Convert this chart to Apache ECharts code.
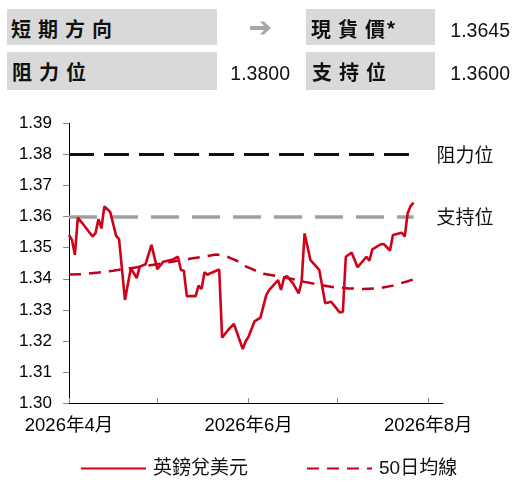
<!DOCTYPE html>
<html>
<head>
<meta charset="utf-8">
<script src="https://cdn.jsdelivr.net/npm/echarts@6/dist/echarts.min.js"></script>
<style>
html,body{margin:0;padding:0;background:#fff;overflow:hidden;}
#chart{position:absolute;left:0;top:0;width:516px;height:486px;}
.box{position:absolute;background:#d9d9d9;z-index:2;}
.lab{position:absolute;z-index:3;font-family:'Noto Sans CJK TC',sans-serif;font-weight:bold;font-size:20px;letter-spacing:7px;color:#111;line-height:20px;white-space:nowrap;}
.ast{letter-spacing:0;margin-left:-6px;}
.num{position:absolute;z-index:3;font-family:'Liberation Sans',Arial,sans-serif;font-size:19.5px;color:#111;line-height:20px;text-align:right;width:100px;}
.arrow{position:absolute;z-index:3;left:249px;top:20px;}
</style>
</head>
<body>
<div id="chart"></div>
<div class="box" style="left:7px;top:9px;width:210px;height:36px;"></div>
<div class="box" style="left:306px;top:9px;width:129px;height:36px;"></div>
<div class="box" style="left:7px;top:52px;width:210px;height:38px;"></div>
<div class="box" style="left:306px;top:52px;width:129px;height:38px;"></div>
<div class="lab" style="left:11px;top:19px;">短期方向</div>
<svg class="arrow" width="26" height="16" viewBox="0 0 26 16"><path d="M1,6 L15,6 L11,1.5 L15,1.5 L22,8 L15,14.5 L11,14.5 L15,10 L1,10 Z" fill="#a8a8a8"/></svg>
<div class="lab" style="left:311px;top:19px;">現貨價<span class="ast">*</span></div>
<div class="num" style="left:410px;top:20px;">1.3645</div>
<div class="lab" style="left:12px;top:62px;">阻力位</div>
<div class="num" style="left:190px;top:63px;">1.3800</div>
<div class="lab" style="left:312px;top:62px;">支持位</div>
<div class="num" style="left:410px;top:63px;">1.3600</div>
<script>
// ---- data ----
const fxDates = ['2026-04-01','2026-04-02','2026-04-03','2026-04-04','2026-04-06','2026-04-09','2026-04-10','2026-04-11','2026-04-12','2026-04-13','2026-04-15','2026-04-17','2026-04-18','2026-04-20','2026-04-22','2026-04-24','2026-04-25','2026-04-27','2026-04-29','2026-05-01','2026-05-03','2026-05-06','2026-05-08','2026-05-09','2026-05-10','2026-05-11','2026-05-14','2026-05-15','2026-05-16','2026-05-17','2026-05-18','2026-05-19','2026-05-22','2026-05-23','2026-05-25','2026-05-27','2026-05-30','2026-05-31','2026-06-01','2026-06-03','2026-06-05','2026-06-07','2026-06-08','2026-06-11','2026-06-12','2026-06-13','2026-06-14','2026-06-16','2026-06-18','2026-06-19','2026-06-20','2026-06-22','2026-06-24','2026-06-25','2026-06-26','2026-06-27','2026-06-29','2026-07-02','2026-07-03','2026-07-04','2026-07-06','2026-07-08','2026-07-11','2026-07-12','2026-07-13','2026-07-16','2026-07-17','2026-07-19','2026-07-20','2026-07-23','2026-07-24','2026-07-25','2026-07-26','2026-07-27'];
const fxValues = [1.3541,1.3525,1.3477,1.3597,1.3573,1.3536,1.3547,1.3592,1.3562,1.3633,1.3615,1.3538,1.3528,1.3332,1.3434,1.3402,1.3439,1.3447,1.3509,1.3431,1.3455,1.3461,1.3471,1.3428,1.3426,1.3344,1.3344,1.3378,1.3367,1.3421,1.3413,1.3418,1.3430,1.3210,1.3235,1.3255,1.3174,1.3199,1.3214,1.3263,1.3275,1.3348,1.3364,1.3396,1.3364,1.3402,1.3409,1.3386,1.3353,1.3391,1.3546,1.3460,1.3439,1.3428,1.3375,1.3321,1.3326,1.3291,1.3294,1.3471,1.3484,1.3437,1.3471,1.3458,1.3495,1.3512,1.3511,1.3491,1.3541,1.3548,1.3536,1.3611,1.3634,1.3645];
const maDates = ['2026-04-01','2026-04-06','2026-04-11','2026-04-16','2026-04-21','2026-04-26','2026-05-01','2026-05-06','2026-05-11','2026-05-16','2026-05-21','2026-05-24','2026-05-26','2026-05-28','2026-05-31','2026-06-03','2026-06-05','2026-06-10','2026-06-15','2026-06-20','2026-06-25','2026-06-30','2026-07-05','2026-07-10','2026-07-15','2026-07-20','2026-07-25','2026-07-27'];
const maValues = [1.3414,1.3415,1.3420,1.3426,1.3433,1.3440,1.3447,1.3455,1.3463,1.3470,1.3478,1.3474,1.3466,1.3458,1.3440,1.3428,1.3418,1.3410,1.3401,1.3390,1.3381,1.3373,1.3369,1.3367,1.3369,1.3378,1.3392,1.3398];
const levelNames = ['阻力位','支持位'];
const levelValues = [1.38, 1.36];
const seriesNames = ['英鎊兌美元','50日均線'];
const monthTicks = ['2026-04-01','2026-05-01','2026-06-01','2026-07-01','2026-08-01'];
const monthLabels = ['2026-04-01','2026-06-01','2026-08-01'];
const axisStart = '2026-04-01';
const axisEnd = '2026-08-06';
const yMin = 1.30, yMax = 1.39, yStep = 0.01;

// ---- helpers ----
const t0 = Date.UTC(2026,3,1);
function dayIdx(s){const p=s.split('-');return Math.round((Date.UTC(+p[0],+p[1]-1,+p[2])-t0)/86400000);}
function idxLabel(d){const dt=new Date(t0+d*86400000);return dt.getUTCFullYear()+'年'+(dt.getUTCMonth()+1)+'月';}
const fxData = fxDates.map((d,i)=>[dayIdx(d),fxValues[i]]);
const maData = maDates.map((d,i)=>[dayIdx(d),maValues[i]]);
const lastDay = dayIdx(fxDates[fxDates.length-1]);
const firstDay = dayIdx(fxDates[0]);
const numFont = "'Liberation Sans', 'Noto Sans CJK TC', sans-serif";
const cjkFont = "'Noto Sans CJK TC', sans-serif";

const chart = echarts.init(document.getElementById('chart'));
chart.setOption({
  animation:false,
  grid:{left:69,right:73,top:123.5,bottom:83},
  xAxis:{
    type:'value',min:dayIdx(axisStart),max:dayIdx(axisEnd),
    axisLine:{lineStyle:{color:'#000',width:1}},
    axisTick:{customValues:monthTicks.map(dayIdx),length:5,inside:true,lineStyle:{color:'#888',width:1}},
    axisLabel:{customValues:monthLabels.map(dayIdx),formatter:v=>idxLabel(v),margin:14,fontSize:18.5,color:'#000',fontFamily:numFont},
    splitLine:{show:false}
  },
  yAxis:{
    type:'value',min:yMin,max:yMax,interval:yStep,
    axisLine:{show:true,lineStyle:{color:'#000',width:1}},
    axisTick:{show:true,length:6,lineStyle:{color:'#888'}},
    axisLabel:{formatter:v=>v.toFixed(2),margin:17,fontSize:17,color:'#000',fontFamily:numFont},
    splitLine:{show:false}
  },
  legend:{
    left:75,bottom:3,itemWidth:65,itemHeight:14,itemGap:58,
    itemStyle:{opacity:0},
    textStyle:{fontSize:19,color:'#111',fontFamily:numFont,padding:[0,0,0,2]},
    data:seriesNames
  },
  series:[
    {name:seriesNames[1],type:'line',data:maData,symbol:'none',z:3,
     lineStyle:{color:'#c0001a',width:2.5,type:[12,8]},itemStyle:{color:'#c0001a'}},
    {name:seriesNames[0],type:'line',data:fxData,symbol:'none',z:4,
     lineStyle:{color:'#d0021b',width:2.6},itemStyle:{color:'#d0021b'},
     markLine:{silent:true,symbol:'none',animation:false,z:2,
       label:{position:'end',distance:23,fontSize:19,color:'#111',fontFamily:cjkFont},
       data:[
        [{coord:[firstDay,levelValues[0]],name:levelNames[0],lineStyle:{color:'#111',width:3,type:[25,10]},label:{formatter:levelNames[0]}},{coord:[lastDay,levelValues[0]]}],
        [{coord:[firstDay,levelValues[1]],name:levelNames[1],lineStyle:{color:'#a0a0a0',width:3.5,type:[28,13]},label:{formatter:levelNames[1]}},{coord:[lastDay,levelValues[1]]}]
       ]}}
  ]
});
</script>
</body>
</html>
